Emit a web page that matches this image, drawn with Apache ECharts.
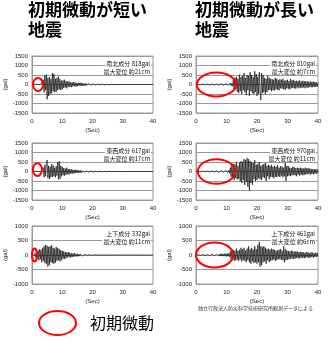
<!DOCTYPE html>
<html><head><meta charset="utf-8">
<script src="https://cdn.jsdelivr.net/npm/echarts@6/dist/echarts.min.js"></script>
<style>html,body{margin:0;padding:0;background:#fff}#c{width:329px;height:341px}</style>
</head><body><div id="c"></div>
<script>
// sampling step of the records (seconds)
const timeStep = 0.25;
const xTicks = [0, 10, 20, 30, 40];

// 短い初期微動の地震
const shortNS = [
0,0,5,-8,10,-12,15,-10,12,-15,18,-12,15,-20,18,250,-420,480,-300,520,
-780,350,-600,400,-500,300,-450,600,-350,550,-400,300,-380,350,-300,420,-250,280,-300,200,
-250,220,-180,250,-150,180,-200,150,-120,160,-130,120,-140,110,-100,130,-90,100,-110,80,
-90,90,-70,80,-60,100,-80,60,-70,50,-60,70,-50,40,-60,50,-40,60,-30,40,
-50,30,-40,20,-30,35,-20,25,-30,15,-20,25,-15,20,-10,15,-20,10,-15,12,
-8,10,-12,8,-10,6,-8,10,-6,5,-8,6,-5,8,-6,4,-5,6,-4,5,
-6,4,-5,3,-4,5,-3,4,-5,3,-4,3,-3,4,-2,3,-4,2,-3,2,
-3,2,-2,3,-2,2,-3,2,-2,1,-2,2,-1,2,-2,1,-1,2,-1,1,
0];
const shortEW = [
0,0,4,-6,8,-10,12,-8,10,-12,15,-10,12,-15,20,200,-300,350,-250,420,
600,-350,300,-400,250,-300,380,-280,320,-250,200,-300,280,-220,500,-420,550,-380,300,-250,
250,-200,180,-220,150,-180,200,-140,120,-160,130,-100,110,-120,90,-100,80,-90,100,-70,
60,-80,70,-50,60,-70,40,-50,60,-40,50,-30,40,-50,30,-40,35,-25,30,-35,
20,-25,30,-15,20,-25,15,-20,10,-15,20,-10,12,-15,10,-8,12,-10,8,-10,
6,-8,10,-6,8,-5,6,-8,5,-4,6,-5,4,-6,3,-4,5,-3,4,-3,
3,-4,2,-3,4,-2,3,-2,2,-3,2,-2,3,-1,2,-2,1,-2,2,-1,
1,-2,1,-1,2,-1,1,-1,1,-2,1,-1,1,-1,1,-1,1,0,1,-1,
0];
const shortUD = [
0,0,10,-15,60,-80,120,-100,150,-180,200,-150,180,-250,250,-200,300,-280,350,-300,
320,-400,280,-350,300,-250,330,-280,250,-300,220,-260,280,-200,240,-180,200,-220,160,-180,
150,-130,120,-140,100,-110,90,-80,100,-70,80,-90,60,-70,50,-60,70,-50,40,-50,
40,-45,30,-40,35,-25,30,-35,20,-30,25,-20,30,-15,20,-25,15,-20,10,-15,
12,-10,8,-12,10,-6,8,-10,6,-8,5,-6,8,-5,4,-6,5,-4,3,-5,
4,-3,5,-4,3,-2,4,-3,2,-3,3,-2,2,-3,2,-1,2,-2,1,-2,
2,-1,1,-2,1,-1,2,-1,1,-1,1,-2,1,-1,1,-1,1,-1,0,1,
-1,1,0,-1,1,-1,0,1,-1,0,1,-1,0,1,-1,0,1,-1,0,0,
0];
// 長い初期微動の地震
const longNS = [
0,3,-5,8,-10,12,-15,10,-12,18,-15,20,-18,15,-20,25,-20,18,-22,25,
-25,30,-28,25,-30,35,-30,28,-35,40,-30,35,-40,45,-35,40,-45,50,-40,45,
-50,55,-45,50,-60,80,-70,60,-90,250,-300,350,-250,400,-380,300,-450,520,-350,400,
-500,450,-300,600,-400,350,-550,500,-300,450,-600,650,-350,500,-450,380,-500,700,-400,550,
-600,400,-500,650,-350,-820,600,-450,500,-400,350,-500,300,-400,450,-300,350,-280,300,-350,
280,-300,250,-320,350,-250,300,-280,220,-300,280,-200,250,-220,300,-250,200,-280,220,-200,
250,-220,180,-250,300,-200,220,-180,250,-200,180,-220,200,-150,180,-200,220,-160,150,-180,
200,-150,180,-200,160,-140,170,-180,150,-120,160,-150,130,-140,150,-120,140,-130,110,-120,
100];
const longEW = [
0,3,-5,6,-8,10,-12,10,-14,15,-12,18,-15,20,-18,22,-20,25,-22,25,
-28,30,-25,32,-30,35,-32,38,-35,40,-38,42,-40,45,-42,48,-45,50,-48,50,
-55,60,-50,70,-90,200,-280,350,-300,400,-450,380,-350,500,-420,300,-380,450,-500,550,
-600,500,-450,650,-700,600,-550,700,-800,650,-1000,550,-600,500,-700,450,-400,600,-500,350,
-450,400,-350,500,-400,300,-450,350,-300,400,-350,450,-500,300,-250,350,-400,300,-280,350,
-300,250,-350,300,-280,250,-300,350,-250,200,-300,280,-220,250,-300,200,-250,450,-500,300,
-250,280,-220,200,-250,180,-200,250,-180,220,-200,180,-250,200,-150,180,-220,200,-160,180,
-200,150,-180,200,-150,160,-140,180,-120,150,-160,140,-130,120,-150,130,-110,120,-100,110,
-100];
const longUD = [
0,2,-4,6,-8,10,-10,12,-12,15,-12,15,-18,20,-15,18,-20,22,-18,20,
-25,28,-22,30,-28,32,-30,35,-30,38,-35,40,-38,40,-35,42,-40,45,-40,45,
-48,50,-45,55,-60,120,-150,180,-140,160,-200,150,-180,220,-160,140,-200,180,-150,250,
-220,200,-180,250,-200,150,-250,220,-180,300,-250,200,-300,250,-220,180,-280,300,-250,200,
-300,350,-250,450,-400,300,-350,280,-250,300,-220,250,-300,200,-180,220,-250,180,-200,220,
-180,200,-150,180,-200,150,-180,160,-140,180,-150,200,-160,150,-180,300,-250,200,-180,150,
-160,140,-150,120,-130,150,-120,130,-140,110,-120,130,-100,120,-110,100,-120,110,-90,100,
-100,90,-110,80,-90,100,-80,90,-100,70,-80,90,-70,80,-90,60,-70,80,-60,70,
-60];

const componentLabels = ['南北成分 818gal','南北成分 810gal','東西成分 617gal','東西成分 970gal','上下成分 332gal','上下成分 461gal'];
const displacementLabels = ['最大変位 約21cm','最大変位 約7cm','最大変位 約17cm','最大変位 約11cm','最大変位 約11cm','最大変位 約6cm'];
const yLimits = [1500, 1500, 1500, 1500, 1000, 1000];
// initial tremor extent marked by red ellipse: [centre sec, half-width sec, centre gal, half-height gal]
const tremorMarks = [[2.0,1.65,0,340],[6.7,6.4,0,630],[1.8,1.5,100,340],[6.7,6.1,0,650],[0.83,0.83,0,224],[6.1,6.1,0,430]];
const titleShort = ['初期微動が短い','地震'];
const titleLong = ['初期微動が長い','地震'];
const legendText = '初期微動';
const sourceText = '独立行政法人防災科学技術研究所観測データによる';

const records = [shortNS, longNS, shortEW, longEW, shortUD, longUD];

const W = 329, H = 341;
const colLeft = [32, 196], colWidth = [121, 122];
const rowTop = [56, 143, 226], rowHeight = [57, 57, 58];
const CJK = '"Noto Sans CJK JP", sans-serif';
const LAT = '"Liberation Sans", Arial, sans-serif';

const grids = [], xAxes = [], yAxes = [], series = [];
records.forEach((rec, i) => {
  const c = i % 2, r = Math.floor(i / 2);
  grids.push({left: colLeft[c], top: rowTop[r], width: colWidth[c], height: rowHeight[r],
    show: true, borderColor: '#999', borderWidth: 1, backgroundColor: '#fff', containLabel: false});
  xAxes.push({type: 'value', gridIndex: i, min: xTicks[0], max: xTicks[xTicks.length-1], interval: 10,
    axisLine: {show: true, lineStyle: {color: '#999'}}, axisTick: {show: false}, splitLine: {show: false},
    axisLabel: {fontSize: 6, color: '#222', margin: 5, fontFamily: LAT, formatter: v => String(v)},
    name: '(Sec)', nameLocation: 'middle', nameGap: 14, nameTextStyle: {fontSize: 6, color: '#222', fontFamily: LAT}});
  yAxes.push({type: 'value', gridIndex: i, min: -yLimits[i], max: yLimits[i], interval: 500,
    axisLine: {show: true, lineStyle: {color: '#999'}}, axisTick: {show: false},
    splitLine: {show: true, lineStyle: {color: '#999', width: 1}},
    axisLabel: {fontSize: 6, color: '#222', margin: 4, fontFamily: LAT, formatter: v => String(v)},
    name: '(gal)', nameLocation: 'middle', nameGap: 22, nameRotate: 90,
    nameTextStyle: {fontSize: 6, color: '#222', fontFamily: LAT}});
  series.push({type: 'line', xAxisIndex: i, yAxisIndex: i, symbol: 'none', silent: true,
    lineStyle: {color: '#111', width: 0.7}, data: rec.map((v, k) => [k * timeStep, v]), z: 3});
});

const chart = echarts.init(document.getElementById('c'), null, {renderer: 'canvas', width: W, height: H});
chart.setOption({animation: false, backgroundColor: '#fff', grid: grids, xAxis: xAxes, yAxis: yAxes, series: series});

const graphics = [];
// titles
[[titleShort, 28], [titleLong, 195]].forEach(([lines, x]) => {
  lines.forEach((t, k) => graphics.push({type: 'text', left: x, top: 1 + k * 20,
    style: {text: t, font: 'bold 17px ' + CJK, fill: '#000'}}));
});
// annotations and ellipses
records.forEach((rec, i) => {
  const c = i % 2, r = Math.floor(i / 2);
  const right = colLeft[c] + colWidth[c] - 2;
  [componentLabels[i], displacementLabels[i]].forEach((t, k) => graphics.push({type: 'text', x: right, y: rowTop[r] + 8 + k * 8,
    z: 10, style: {text: t, align: 'right', verticalAlign: 'middle', font: '6px ' + CJK, fill: '#111',
      backgroundColor: '#fff', padding: [0, 1]}}));
  const m = tremorMarks[i];
  const p0 = chart.convertToPixel({gridIndex: i}, [m[0], m[2]]);
  const p1 = chart.convertToPixel({gridIndex: i}, [m[0] + m[1], m[2] + m[3]]);
  graphics.push({type: 'ellipse', z: 20, shape: {cx: p0[0], cy: p0[1], rx: Math.abs(p1[0] - p0[0]), ry: Math.abs(p1[1] - p0[1])},
    style: {fill: 'none', stroke: '#f00', lineWidth: 2}});
});
// legend
graphics.push({type: 'ellipse', shape: {cx: 57.5, cy: 323, rx: 18.5, ry: 12}, style: {fill: 'none', stroke: '#f00', lineWidth: 2}});
graphics.push({type: 'text', x: 90, y: 323, style: {text: legendText, font: '16px ' + CJK, fill: '#000', verticalAlign: 'middle'}});
// source
graphics.push({type: 'text', x: 198, y: 308, style: {text: sourceText, font: '5px ' + CJK, fill: '#333', verticalAlign: 'middle'}});
chart.setOption({graphic: graphics});
</script></body></html>
